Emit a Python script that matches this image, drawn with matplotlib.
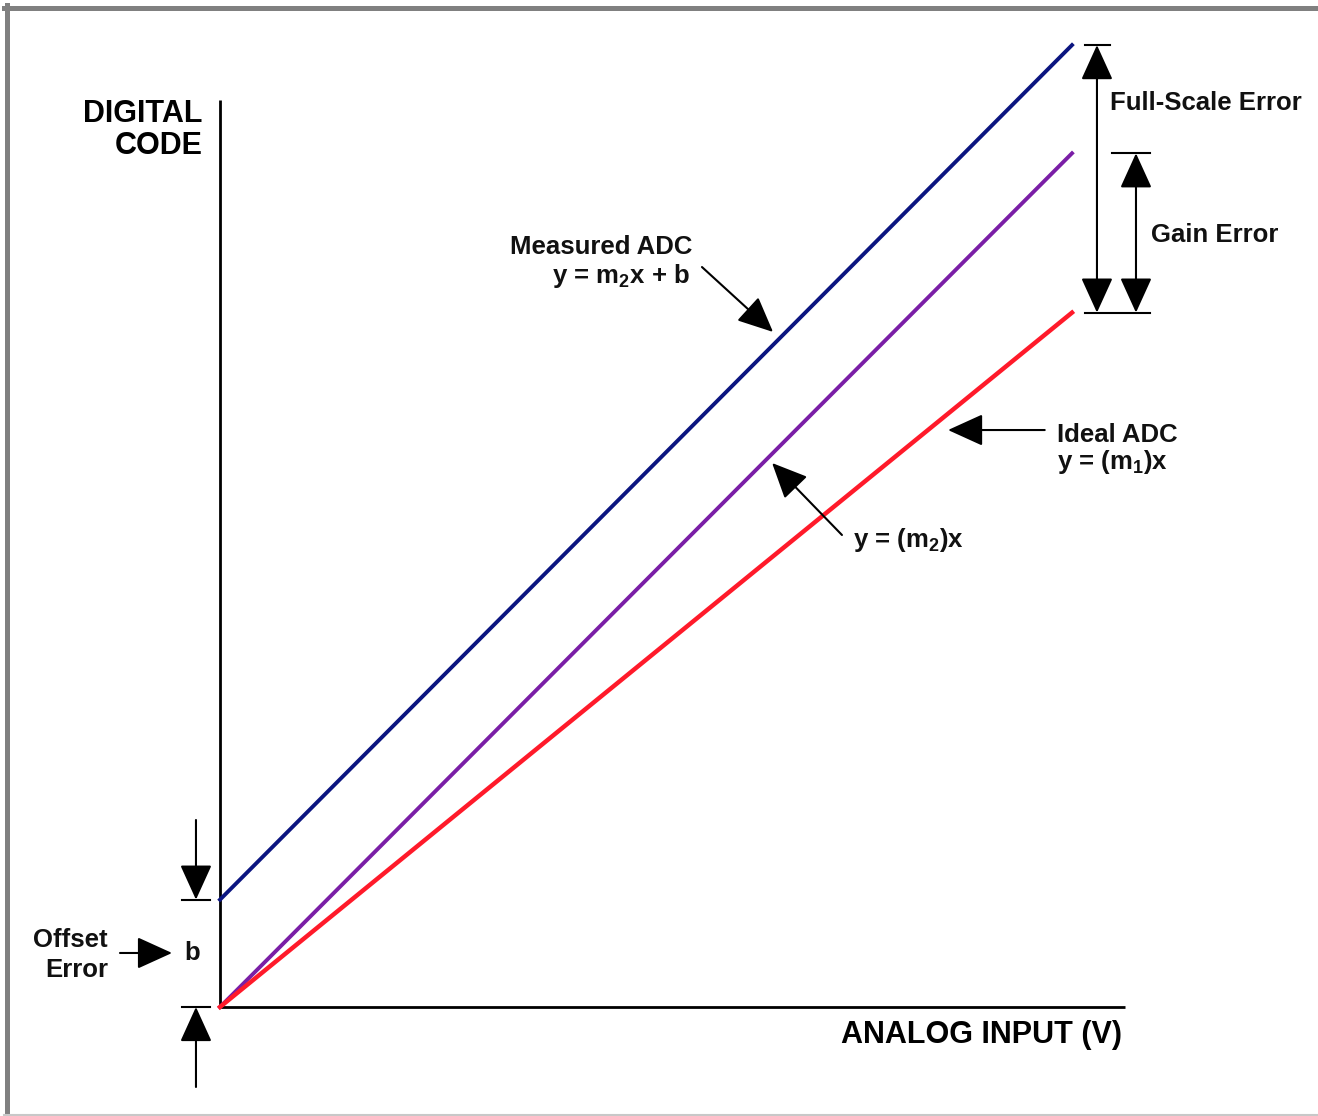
import matplotlib
matplotlib.use("Agg")
import matplotlib.pyplot as plt
from matplotlib.lines import Line2D

# normalised analog input (0..1) and digital code of each transfer curve
x_input = [0.0, 1.0]
ideal_code = [0.0, 0.815]       # y = (m1)x
gain_code = [0.0, 1.002]        # y = (m2)x
measured_code = [0.126, 1.129]  # y = m2x + b

BLUE = '#0b1580'
PURPLE = '#7a1ea6'
RED = '#ff1a2a'

W, H = 1318, 1116
X0, Y0, SCALE = 220, 1007, 852.0  # pixel of the origin, pixels per unit

fig = plt.figure(figsize=(W / 100, H / 100), dpi=100)
ax = fig.add_axes([0, 0, 1, 1])
ax.set_xlim(-X0 / SCALE, (W - X0) / SCALE)
ax.set_ylim(-(H - Y0) / SCALE, Y0 / SCALE)
ax.axis('off')

# frame round the picture
fig.add_artist(Line2D([4 / W, 1], [1 - 7.5 / H, 1 - 7.5 / H], color='#808080', lw=3.6))
fig.add_artist(Line2D([6.5 / W, 6.5 / W], [0, 1 - 5 / H], color='#808080', lw=3.6))
fig.add_artist(Line2D([4 / W, 1], [1.5 / H, 1.5 / H], color='#c8c8c8', lw=1.5))

# axes
ax.plot([0, 0], [0, 1.065], color='black', lw=2.0, solid_capstyle='butt')
ax.plot([0, 1.062], [0, 0], color='black', lw=2.0, solid_capstyle='butt')

# transfer curves
ax.plot(x_input, measured_code, color=BLUE, lw=2.8)
ax.plot(x_input, gain_code, color=PURPLE, lw=2.8)
ax.plot(x_input, ideal_code, color=RED, lw=3.2)

# axis titles
ax.text(-0.02, 1.0387, 'DIGITAL', family='Liberation Sans', weight='bold', size=22,
        ha='right', va='baseline')
ax.text(-0.02, 1.0012, 'CODE', family='Liberation Sans', weight='bold', size=22,
        ha='right', va='baseline')
ax.text(1.0587, -0.0423, 'ANALOG INPUT (V)', family='Liberation Sans', weight='bold',
        size=22, ha='right', va='baseline')

head = dict(arrowstyle='-|>,head_length=1.1,head_width=0.5', mutation_scale=20,
            color='black', lw=1.5, shrinkA=0, shrinkB=0)
both = dict(head, arrowstyle='<|-|>,head_length=1.1,head_width=0.5')


def arrow(tail, tip, props=head):
    ax.annotate('', xy=tip, xytext=tail, arrowprops=props)


def label(x, y, s, ha='left'):
    ax.text(x, y, s, family='Liberation Sans', weight='bold', size=18.5,
            ha=ha, va='baseline', color='#111111')


# offset error
x_off = -0.0282
arrow((x_off, 0.2195), (x_off, measured_code[0]))
arrow((x_off, -0.0939), (x_off, 0.0))
ax.plot([-0.0446, -0.0117], [measured_code[0]] * 2, color='black', lw=1.5)
ax.plot([-0.0446, -0.0117], [0.0, 0.0], color='black', lw=1.5)
arrow((-0.1174, 0.0634), (-0.0563, 0.0634))
label(-0.1315, 0.0704, 'Offset', ha='right')
label(-0.1315, 0.0352, 'Error', ha='right')
label(-0.0329, 0.0552, 'b', ha='center')

# full-scale and gain error
x_fs, x_gain = 1.0293, 1.0751
arrow((x_fs, ideal_code[-1]), (x_fs, measured_code[-1]), both)
arrow((x_gain, ideal_code[-1]), (x_gain, gain_code[-1]), both)
ax.plot([1.0153, 1.0446], [measured_code[-1]] * 2, color='black', lw=1.5)
ax.plot([1.0469, 1.0915], [gain_code[-1]] * 2, color='black', lw=1.5)
ax.plot([1.0153, 1.0915], [ideal_code[-1]] * 2, color='black', lw=1.5)
label(1.0446, 1.0528, 'Full-Scale Error')
label(1.0927, 0.8979, 'Gain Error')

# curve labels
label(0.554, 0.8838, 'Measured ADC', ha='right')
label(0.5516, 0.8498, r'y = m$\mathregular{_2}$x + b', ha='right')
arrow((0.5657, 0.8685), (0.6491, 0.7923))

label(0.9824, 0.6631, 'Ideal ADC')
label(0.9824, 0.6320, r'y = (m$\mathregular{_1}$)x')
arrow((0.968, 0.6772), (0.8545, 0.6772))

label(0.743, 0.540, r'y = (m$\mathregular{_2}$)x')
arrow((0.730, 0.554), (0.648, 0.6385))

fig.savefig('out.png', dpi=100, facecolor='white')
